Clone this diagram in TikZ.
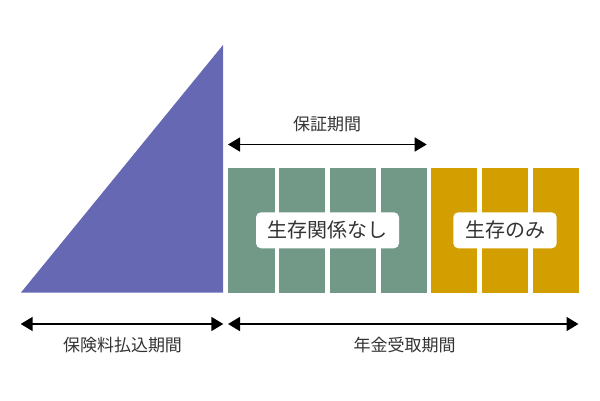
\documentclass[tikz,border=0pt]{standalone}
\usepackage{fontspec}
\setmainfont{Noto Sans CJK JP}
\usepackage{xcolor}
\usetikzlibrary{arrows.meta, positioning, calc}
\definecolor{premiumpurple}{RGB}{102, 104, 180}
\definecolor{guaranteegreen}{RGB}{114, 153, 136}
\definecolor{lifegold}{RGB}{211, 158, 0}
\definecolor{labelgray}{RGB}{51, 51, 51}

\begin{document}
\begin{tikzpicture}[
    x=1pt, y=-1pt,
    bar/.style={
        rectangle, anchor=north west, inner sep=0pt, outer sep=0pt,
        minimum width=46.2pt, minimum height=124.4pt
    },
    tag/.style={
        rectangle, fill=white, rounded corners=5pt, inner sep=0pt,
        minimum height=36pt, text=labelgray, font=\fontsize{20}{20}\selectfont
    },
    period/.style={text=labelgray, inner sep=0pt, font=\fontsize{17}{17}\selectfont},
    spanline/.style={draw, {Triangle[length=12pt, width=14pt]}-{Triangle[length=12pt, width=14pt]}, line width=1.6pt, color=black}
]
    \useasboundingbox (0,0) rectangle (600,400);

    \fill [premiumpurple] (21,292.5) -- (223,45) -- (223,292.5) -- cycle;

    \foreach \i in {0,...,3}
        \node [bar, fill=guaranteegreen] (green\i) at (228.4+50.72*\i, 168.3) {};
    \foreach \i in {4,...,6}
        \node [bar, fill=lifegold] (gold\i) at (228.4+50.72*\i, 168.3) {};

    \node [tag, minimum width=143pt]   (alive)  at (327.5, 230.3) {生存関係なし};
    \node [tag, minimum width=103.4pt] (onlyalive) at (505, 230.3) {生存のみ};

    \coordinate (guarL) at (228, 144.5);
    \coordinate (guarR) at (426.7, 144.5);
    \coordinate (payL)  at (20.7, 324);
    \coordinate (payR)  at (223.3, 324);
    \coordinate (recvL) at (228, 324);
    \coordinate (recvR) at (578.5, 324);

    \node [period] (guarlabel) at (327, 124.5) {保証期間};
    \node [period] (paylabel)  at (122.5, 345.5) {保険料払込期間};
    \node [period] (recvlabel) at (404.7, 345.5) {年金受取期間};

    \path [spanline] (guarL) -- (guarR);
    \path [spanline] (payL)  -- (payR);
    \path [spanline] (recvL) -- (recvR);
\end{tikzpicture}
\end{document}
